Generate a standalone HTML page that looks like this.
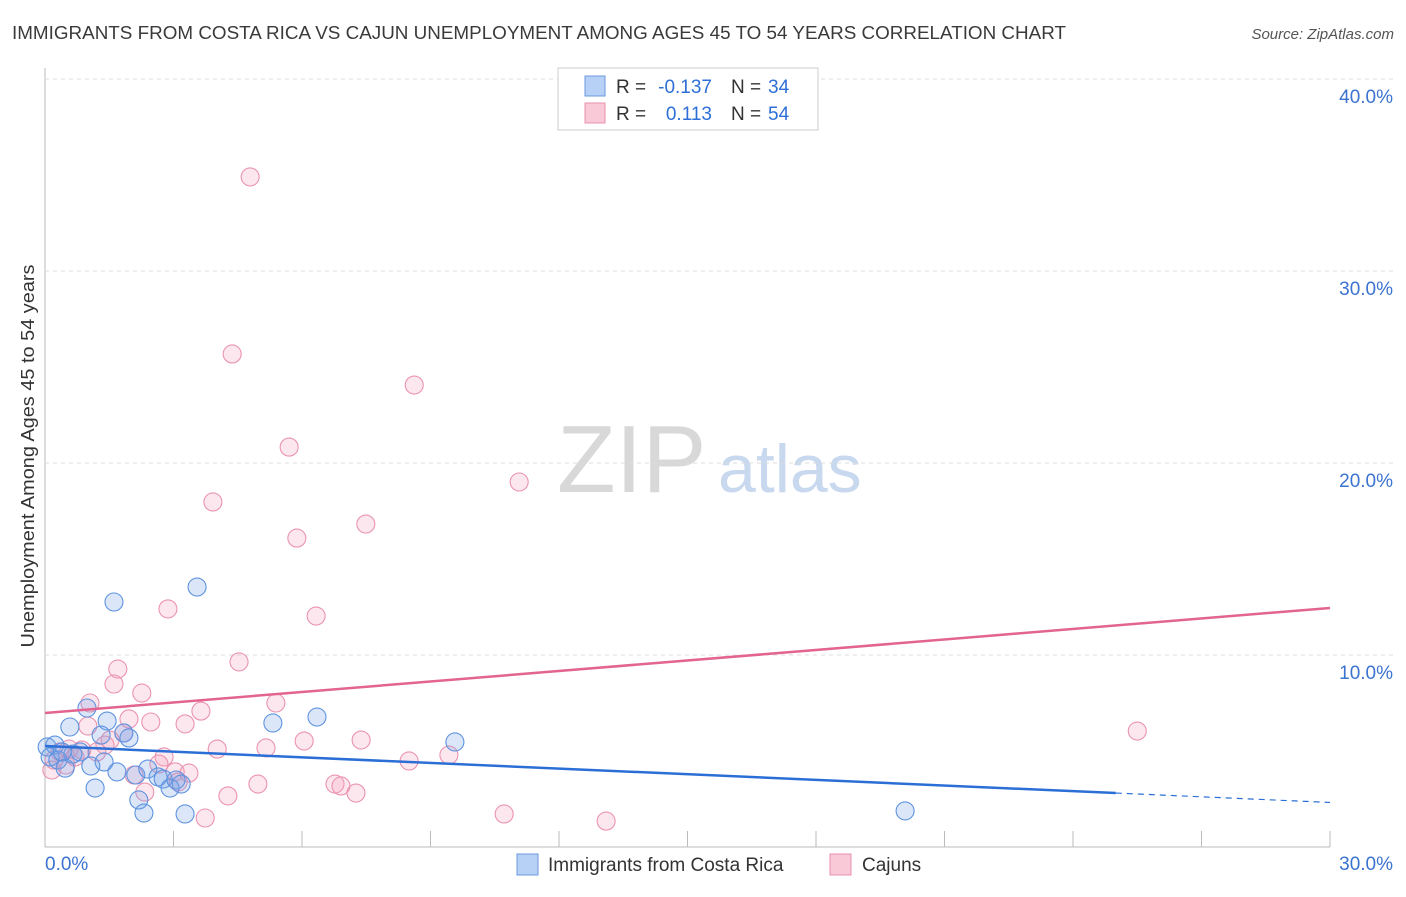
<!DOCTYPE html>
<html><head><meta charset="utf-8"><style>
body{margin:0;background:#fff;font-family:"Liberation Sans",sans-serif;}
svg text{font-family:"Liberation Sans",sans-serif;}
</style></head><body>
<svg id="c" width="1406" height="892">
<text x="12" y="39" font-size="18" fill="#3a3a3a" textLength="1054" lengthAdjust="spacingAndGlyphs">IMMIGRANTS FROM COSTA RICA VS CAJUN UNEMPLOYMENT AMONG AGES 45 TO 54 YEARS CORRELATION CHART</text>
<text x="1394" y="39" font-size="15" font-style="italic" fill="#555" text-anchor="end">Source: ZipAtlas.com</text>
<text x="557" y="492" font-size="96" font-family="Liberation Serif" fill="#d8d8d8">ZIP</text>
<text x="718" y="492" font-size="68" fill="#c8d8ef">atlas</text>
<text transform="translate(34,456) rotate(-90)" font-size="18" fill="#333" text-anchor="middle" textLength="383" lengthAdjust="spacingAndGlyphs">Unemployment Among Ages 45 to 54 years</text>
<g id="grid"></g><g id="pts"></g><g id="lines"></g>
<g>
<rect x="558" y="68" width="260" height="62" fill="#fff" stroke="#ccc"/>
<rect x="585" y="76" width="20" height="20" fill="#b7d0f5" stroke="#6b9ae0"/>
<rect x="585" y="103" width="20" height="20" fill="#f9c9d8" stroke="#e891ad"/>
<text x="616" y="93" font-size="19" fill="#333">R =</text>
<text x="712" y="93" font-size="19" fill="#2e6fd8" text-anchor="end">-0.137</text>
<text x="731" y="93" font-size="19" fill="#333">N =</text>
<text x="768" y="93" font-size="19" fill="#2e6fd8">34</text>
<text x="616" y="120" font-size="19" fill="#333">R =</text>
<text x="712" y="120" font-size="19" fill="#2e6fd8" text-anchor="end">0.113</text>
<text x="731" y="120" font-size="19" fill="#333">N =</text>
<text x="768" y="120" font-size="19" fill="#2e6fd8">54</text>
</g>
<g>
<rect x="517" y="854" width="21" height="21" fill="#b7d0f5" stroke="#6b9ae0"/>
<text x="548" y="871" font-size="19" fill="#333">Immigrants from Costa Rica</text>
<rect x="830" y="854" width="21" height="21" fill="#f9c9d8" stroke="#e891ad"/>
<text x="862" y="871" font-size="19" fill="#333">Cajuns</text>
</g>
</svg>
<script>
const blueX=[0.05,0.23,0.12,0.30,0.47,0.58,0.65,0.82,0.98,1.07,1.17,1.31,1.38,1.45,1.61,1.68,1.84,1.96,2.12,2.19,2.31,2.40,2.64,2.76,2.92,3.06,3.18,3.27,3.55,5.32,6.35,9.57,20.08,0.40];
const blueY=[5.21,5.31,4.69,4.53,4.11,6.25,4.84,4.95,7.24,4.22,3.07,5.83,4.43,6.56,12.76,3.91,5.94,5.68,3.75,2.45,1.77,4.06,3.65,3.54,3.07,3.49,3.28,1.72,13.54,6.46,6.77,5.47,1.88,4.95];
const pinkX=[4.79,4.37,8.62,5.70,11.07,3.92,7.49,5.88,2.87,6.33,4.53,1.70,1.61,1.05,2.26,3.64,5.39,1.96,2.47,1.00,3.27,1.52,1.84,1.40,0.56,0.35,0.16,0.70,0.21,2.78,4.02,5.16,6.05,7.38,8.50,9.43,2.08,2.33,3.04,3.36,3.11,4.27,4.97,6.77,6.91,7.26,3.74,10.72,13.10,25.50,0.86,1.21,2.66,0.49];
const pinkY=[34.9,25.68,24.06,20.83,19.01,17.97,16.82,16.09,12.40,12.03,9.64,9.27,8.49,7.50,8.02,7.08,7.50,6.67,6.51,6.30,6.41,5.57,5.94,5.31,5.10,4.95,4.01,4.69,4.53,4.69,5.10,5.16,5.52,5.57,4.48,4.79,3.75,2.86,3.91,3.85,3.39,2.66,3.28,3.28,3.18,2.81,1.51,1.72,1.35,6.04,5.05,4.95,4.32,4.27];
const yTicks=[10,20,30,40];
const yTickLabels=["10.0%","20.0%","30.0%","40.0%"];
const xTicks=[0,3,6,9,12,15,18,21,24,27,30];
const blueTrend=[5.26,-0.0980]; // intercept, slope
const pinkTrend=[6.98,0.1823];
const blueSolidEnd=25;
const NS="http://www.w3.org/2000/svg";
const sx=v=>45+v*(1285/30), sy=v=>847-v*19.2;
function mk(tag,attrs,parent){const e=document.createElementNS(NS,tag);for(const k in attrs)e.setAttribute(k,attrs[k]);parent.appendChild(e);return e;}
const grid=document.getElementById('grid');
mk('line',{x1:45,y1:68,x2:45,y2:847,stroke:'#bbb','stroke-width':1},grid);
mk('line',{x1:45,y1:847,x2:1330,y2:847,stroke:'#bbb','stroke-width':1},grid);
yTicks.forEach((t,i)=>{
  const l=mk('line',{x1:45,y1:sy(t),x2:1394,y2:sy(t),stroke:'#ddd','stroke-dasharray':'4,4'},grid);
  
  
  const tx=mk('text',{x:1393,y:sy(t)+24,'font-size':19,fill:'#3b73d1','text-anchor':'end'},grid);
  tx.textContent=yTickLabels[i];
  
  
});
xTicks.forEach(t=>{
  const l=mk('line',{x1:sx(t),y1:831,x2:sx(t),y2:847,stroke:'#bbb'},grid);
  
  
});
let t0=mk('text',{x:45,y:870,'font-size':19,fill:'#3b73d1'},grid);t0.textContent='0.0%';


let t1=mk('text',{x:1393,y:870,'font-size':19,fill:'#3b73d1','text-anchor':'end'},grid);t1.textContent='30.0%';


const pts=document.getElementById('pts');
pinkX.forEach((x,i)=>{
  const c=mk('circle',{cx:sx(x),cy:sy(pinkY[i]),r:9,fill:'rgba(244,160,188,0.25)',stroke:'#eb93b0','stroke-width':1.1},pts);
  
  
});
blueX.forEach((x,i)=>{
  const c=mk('circle',{cx:sx(x),cy:sy(blueY[i]),r:9,fill:'rgba(110,160,230,0.25)',stroke:'#5e93e0','stroke-width':1.1},pts);
  
  
});
const ln=document.getElementById('lines');
const f=(tr,x)=>tr[0]+tr[1]*x;
let p=mk('line',{x1:sx(0),y1:sy(f(pinkTrend,0)),x2:sx(30),y2:sy(f(pinkTrend,30)),stroke:'#e2648f','stroke-width':2.5},ln);


let b=mk('line',{x1:sx(0),y1:sy(f(blueTrend,0)),x2:sx(blueSolidEnd),y2:sy(f(blueTrend,blueSolidEnd)),stroke:'#2b6fd6','stroke-width':2.5},ln);


let bd=mk('line',{x1:sx(blueSolidEnd),y1:sy(f(blueTrend,blueSolidEnd)),x2:sx(30),y2:sy(f(blueTrend,30)),stroke:'#2b6fd6','stroke-width':1.2,'stroke-dasharray':'6,5'},ln);


</script>
</body></html>
